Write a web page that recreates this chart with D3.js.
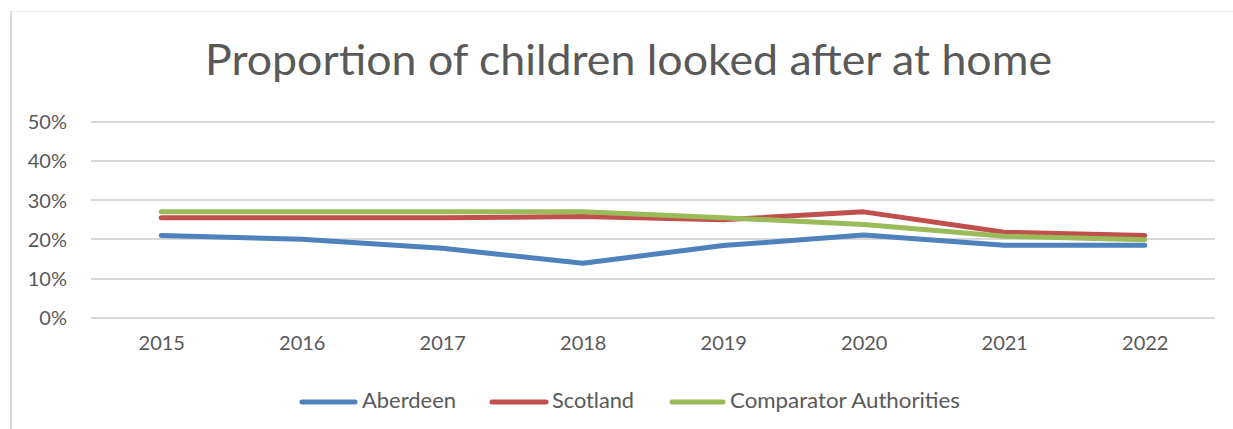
<!DOCTYPE html>
<html>
<head>
<meta charset="utf-8">
<script src="https://cdn.jsdelivr.net/npm/d3@7"></script>
<style>
  html, body { margin: 0; padding: 0; background: #ffffff; }
  svg { display: block; }
  text { font-family: Lato, "Open Sans", sans-serif; fill: #595959; }
</style>
</head>
<body>
<script>
// Chart data
const years = ["2015", "2016", "2017", "2018", "2019", "2020", "2021", "2022"];
const aberdeen = [0.21, 0.20, 0.177, 0.139, 0.184, 0.211, 0.185, 0.185];
const scotland = [0.255, 0.255, 0.255, 0.258, 0.25, 0.27, 0.218, 0.21];
const comparator = [0.27, 0.27, 0.27, 0.27, 0.255, 0.238, 0.208, 0.199];
const yTicks = [0, 0.1, 0.2, 0.3, 0.4, 0.5];
const seriesNames = ["Aberdeen", "Scotland", "Comparator Authorities"];
const seriesColors = ["#4F81BD", "#C0504D", "#9BBB59"];
const titleText = "Proportion of children looked after at home";

const W = 1233, H = 429;
const svg = d3.select("body").append("svg").attr("width", W).attr("height", H);

// Chart frame
svg.append("line").attr("x1", 10).attr("x2", W).attr("y1", 11.5).attr("y2", 11.5)
  .attr("stroke", "#eeeeee").attr("stroke-width", 1);
svg.append("line").attr("x1", 11).attr("x2", 11).attr("y1", 11).attr("y2", H)
  .attr("stroke", "#d9d9d9").attr("stroke-width", 2);

// Fit a text element to a given width
function fit(sel, w) {
  const n = sel.node();
  const len = n.getComputedTextLength();
  if (Math.abs(len - w) > 1) sel.attr("textLength", w).attr("lengthAdjust", "spacingAndGlyphs");
}

// Title
const title = svg.append("text")
  .attr("x", 205).attr("y", 75)
  .attr("font-size", 42)
  .text(titleText);
fit(title, 847);

// Scales
const x = d3.scalePoint().domain(years).range([91, 1215]).padding(0.5);
const y = d3.scaleLinear().domain([0, 0.5]).range([317.7, 121.7]);

// Gridlines
svg.append("g").selectAll("line").data(yTicks).join("line")
  .attr("x1", 91).attr("x2", 1215)
  .attr("y1", d => Math.round(y(d))).attr("y2", d => Math.round(y(d)))
  .attr("stroke", "#d9d9d9").attr("stroke-width", 2);

// Y axis labels
const yAxis = svg.append("g").attr("transform", "translate(67,0)")
  .call(d3.axisLeft(y).tickValues(yTicks).tickFormat(d3.format(".0%")).tickSize(0).tickPadding(0));
yAxis.select(".domain").remove();
yAxis.selectAll("text").attr("font-size", 20).attr("fill", "#595959")
  .attr("font-family", "Lato, sans-serif").attr("dy", "0.35em");

// X axis labels
const xAxis = svg.append("g").attr("transform", "translate(0,336)")
  .call(d3.axisBottom(x).tickSize(0).tickPadding(0));
xAxis.select(".domain").remove();
xAxis.selectAll("text").attr("font-size", 20).attr("fill", "#595959")
  .attr("font-family", "Lato, sans-serif").attr("dy", "0.71em");

// Lines
const seriesData = [aberdeen, scotland, comparator];
const line = d3.line().x((d, i) => x(years[i])).y(d => y(d));
svg.append("g").selectAll("path").data(seriesData).join("path")
  .attr("d", d => line(d))
  .attr("fill", "none")
  .attr("stroke", (d, i) => seriesColors[i])
  .attr("stroke-width", 5)
  .attr("stroke-linecap", "round")
  .attr("stroke-linejoin", "round");

// Legend
const legendItems = [
  { x1: 302, x2: 355, tx: 362, tw: 94 },
  { x1: 492, x2: 546, tx: 552, tw: 82 },
  { x1: 672, x2: 723, tx: 730, tw: 230 }
];
const lg = svg.append("g");
legendItems.forEach((it, i) => {
  lg.append("line").attr("x1", it.x1).attr("x2", it.x2).attr("y1", 402).attr("y2", 402)
    .attr("stroke", seriesColors[i]).attr("stroke-width", 5).attr("stroke-linecap", "round");
  const t = lg.append("text").attr("x", it.tx).attr("y", 408.3)
    .attr("font-size", 21).text(seriesNames[i]);
  fit(t, it.tw);
});
</script>
</body>
</html>
